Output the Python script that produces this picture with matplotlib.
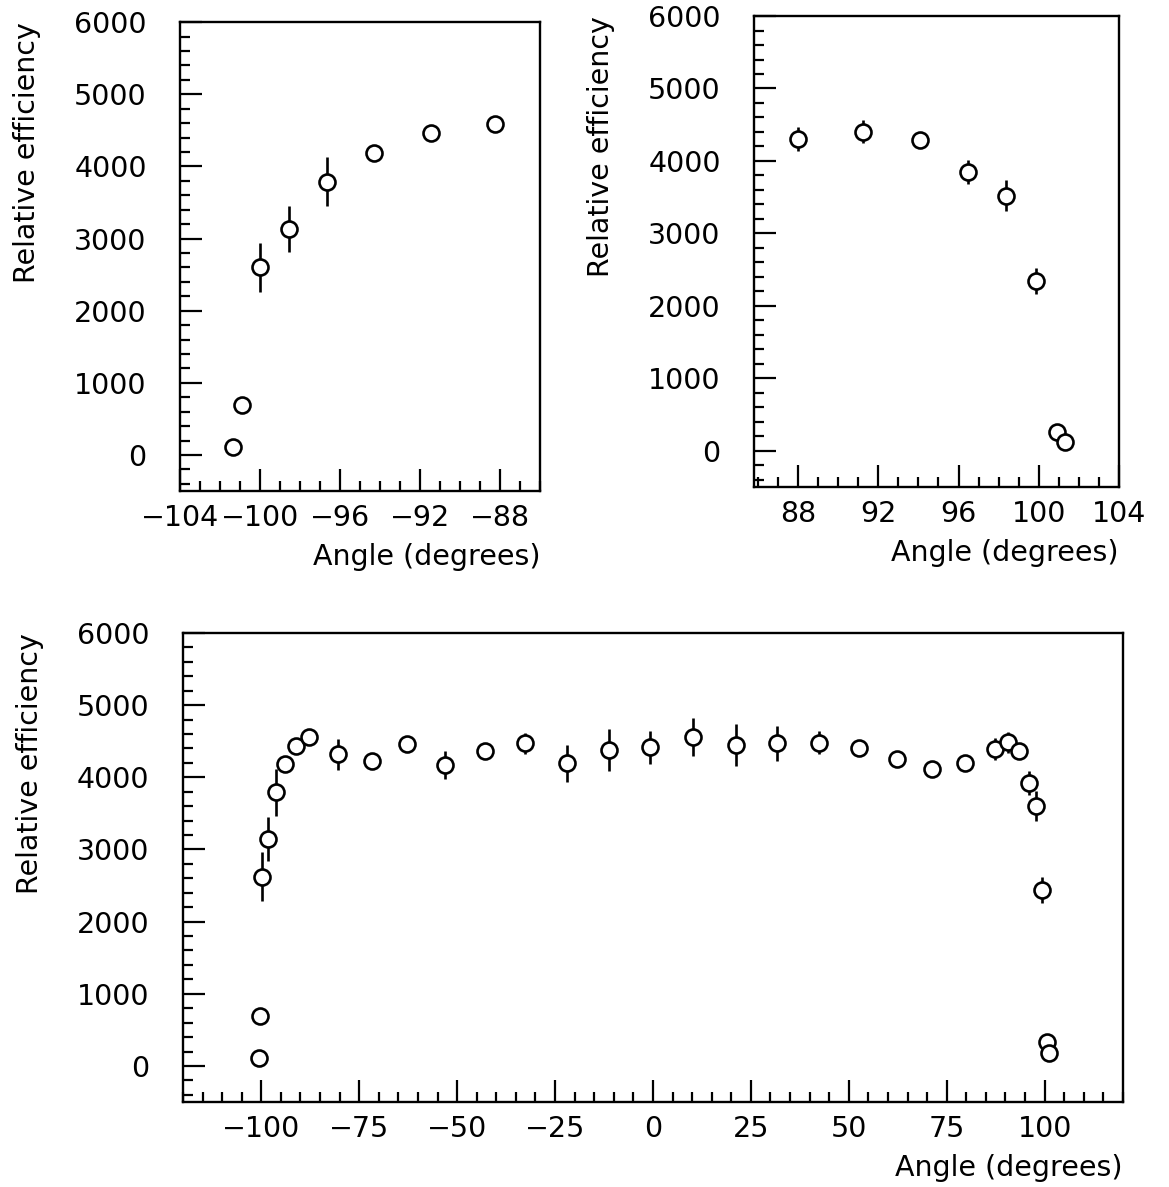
import matplotlib
matplotlib.use("Agg")
import matplotlib.pyplot as plt
from matplotlib.ticker import MultipleLocator

plt.rcParams['font.family'] = ['DejaVu Sans']

# ---- data: top-left panel (negative angles) ----
left_angle = [-101.33, -100.9, -100.0, -98.55, -96.67, -94.28, -91.45, -88.25]
left_eff = [116, 696, 2604, 3130, 3788, 4188, 4457, 4592]
left_err = [60, 60, 340, 320, 340, 100, 100, 100]

# ---- data: top-right panel (positive angles) ----
right_angle = [88.0, 91.26, 94.08, 96.45, 98.35, 99.84, 100.89, 101.33]
right_eff = [4302, 4404, 4292, 3847, 3523, 2345, 259, 120]
right_err = [160, 155, 100, 170, 210, 175, 60, 60]

# ---- data: bottom panel (full range) ----
full_angle = [-100.5, -100.2, -99.7, -98.35, -96.2, -93.9, -91.2, -87.9,
              -80.3, -71.8, -62.8, -53.0, -43.0, -32.7, -22.0, -11.3, -0.7,
              10.2, 21.2, 31.8, 42.3, 52.5, 62.2, 71.3, 79.8, 87.4, 90.6,
              93.4, 95.9, 97.8, 99.4, 100.7, 101.1]
full_eff = [115, 697, 2622, 3144, 3790, 4183, 4437, 4561,
            4317, 4224, 4460, 4169, 4363, 4469, 4192, 4377, 4414,
            4561, 4446, 4469, 4478, 4400, 4248, 4114, 4201, 4391, 4483,
            4367, 3924, 3601, 2438, 337, 185]
full_err = [60, 60, 340, 310, 320, 100, 100, 100,
            220, 100, 100, 190, 100, 150, 255, 290, 230,
            265, 290, 240, 160, 100, 100, 100, 100, 155, 140,
            100, 170, 210, 175, 60, 60]

FS = 20.5
fig = plt.figure(figsize=(11.69, 11.87), dpi=100)


def style(ax, xmaj, xmin, xlim):
    ax.set_xlim(*xlim)
    ax.set_ylim(-500, 6000)
    ax.xaxis.set_major_locator(MultipleLocator(xmaj))
    ax.xaxis.set_minor_locator(MultipleLocator(xmin))
    ax.yaxis.set_major_locator(MultipleLocator(1000))
    ax.yaxis.set_minor_locator(MultipleLocator(200))
    ax.tick_params(which='both', direction='in', top=False, right=False,
                   width=1.6, labelsize=FS)
    ax.tick_params(which='major', length=15.5)
    ax.tick_params(which='minor', length=7.5)
    ax.tick_params(axis='x', which='both', pad=9)
    ax.tick_params(axis='y', which='both', pad=24)
    for s in ax.spines.values():
        s.set_linewidth(1.7)
    ax.set_xlabel('Angle (degrees)', fontsize=FS, loc='right', labelpad=8)
    ax.set_ylabel('Relative efficiency', fontsize=FS, loc='top', labelpad=24)


def draw(ax, x, y, e):
    ax.errorbar(x, y, yerr=e, fmt='o', ms=11.5, mfc='white', mec='black',
                mew=1.9, ecolor='black', elinewidth=1.9, capsize=0, zorder=3)


ax1 = fig.add_axes([0.1540, 0.5863, 0.3080, 0.3951])
style(ax1, 4, 1, (-104, -86))
draw(ax1, left_angle, left_eff, left_err)

ax2 = fig.add_axes([0.6450, 0.5897, 0.3122, 0.3968])
style(ax2, 4, 1, (85.8, 104))
draw(ax2, right_angle, right_eff, right_err)

ax3 = fig.add_axes([0.1565, 0.0716, 0.8041, 0.3951])
style(ax3, 25, 5, (-120, 120))
draw(ax3, full_angle, full_eff, full_err)

fig.savefig('out.png', dpi=100)
